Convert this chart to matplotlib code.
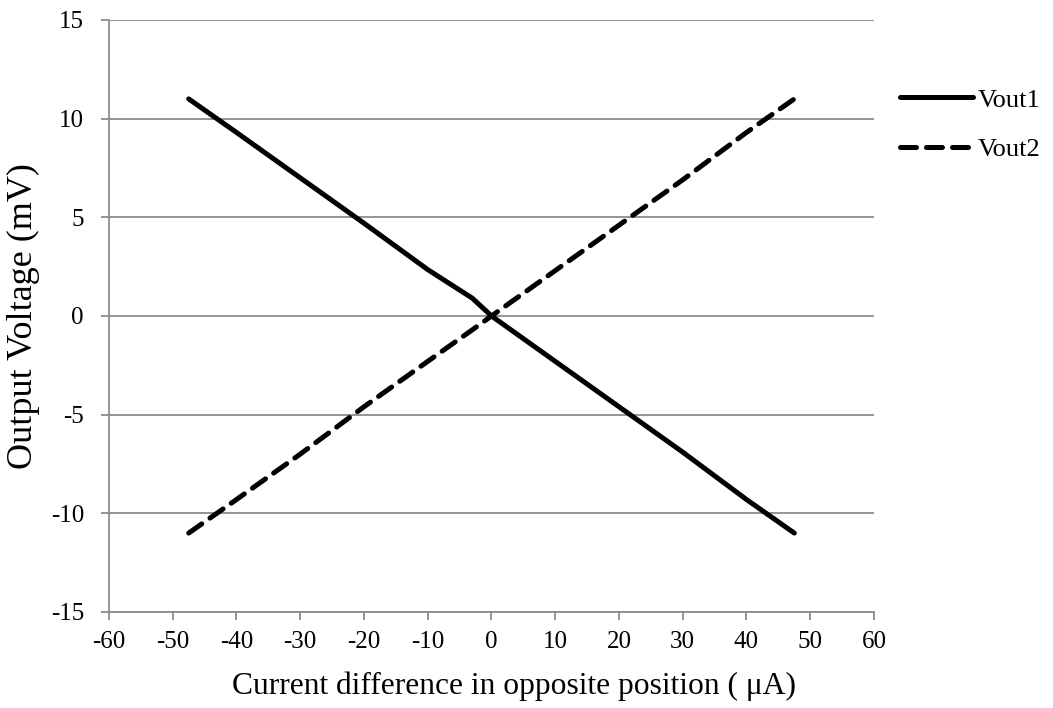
#!/usr/bin/env python3

import numpy as np
from matplotlib import pyplot as plt

plt.rcParams['font.family'] = ['Liberation Serif', 'DejaVu Serif']
plt.rcParams['axes.unicode_minus'] = False

# current difference (uA)
current = [-47.5, -40, -30, -20, -10, -3, 0, 10, 20, 30, 40, 47.5]
# output voltages (mV)
vout1 = [11, 9.3, 7.0, 4.7, 2.35, 0.9, 0, -2.3, -4.6, -6.9, -9.3, -11]
vout2 = [-11, -9.3, -7.0, -4.6, -2.3, -0.7, 0, 2.3, 4.6, 6.9, 9.3, 11]

xticks = np.arange(-60, 61, 10)
yticks = np.arange(-15, 16, 5)

fig = plt.figure(figsize=(10.53, 7.08), dpi=100)
ax = fig.add_axes([0.1035, 0.1356, 0.7265, 0.8362])

grid_col = '#8c8c8c'
for yv in yticks:
	ax.axhline(yv, color=grid_col, lw=1.3, zorder=1)

ax.plot(current, vout1, color='black', lw=3.6, solid_capstyle='round',
	solid_joinstyle='round', label='Vout1', zorder=3)
ax.plot(current, vout2, color='black', lw=3.6, dashes=(3.2, 2.0),
	dash_capstyle='round', label='Vout2', zorder=3)

ax.set_xlim(-60, 60)
ax.set_ylim(-15, 15)
ax.set_xticks(xticks)
ax.set_yticks(yticks)

for s in ['top', 'right']:
	ax.spines[s].set_visible(False)
for s in ['left', 'bottom']:
	ax.spines[s].set_color(grid_col)
	ax.spines[s].set_linewidth(1.3)

ax.tick_params(axis='both', which='major', labelsize=18, length=6, width=1.3,
	color=grid_col, direction='out')
ax.tick_params(axis='x', pad=8)
ax.tick_params(axis='y', pad=12)

ax.set_xlabel('Current difference in opposite position ( μA)', fontsize=22.7)
ax.xaxis.set_label_coords(0.53, -0.1)
ax.set_ylabel('Output Voltage (mV)', fontsize=26, labelpad=8)

ax.legend(loc='upper left', bbox_to_anchor=(1.034, 0.885), frameon=False,
	fontsize=19, handlelength=2.75, handletextpad=0.2, labelspacing=1.0,
	borderpad=0, borderaxespad=0)

fig.savefig('out.png', dpi=100)
